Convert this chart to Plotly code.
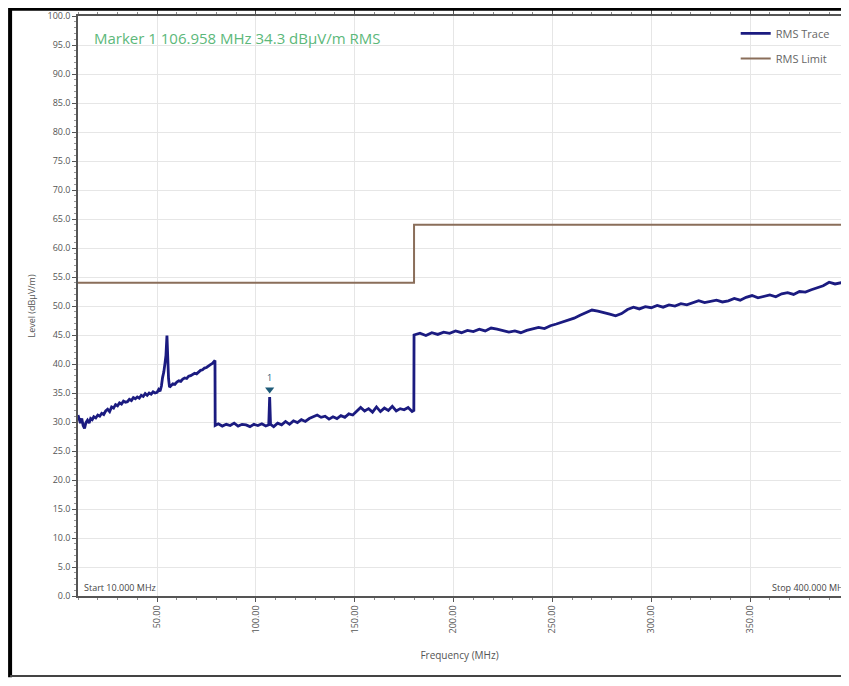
import plotly.graph_objects as go

# RMS trace (MHz, dBuV/m)
freq_low = [10.0, 10.6, 11.2, 11.9, 12.6, 13.3, 14.0, 14.8, 15.6, 16.4, 17.2, 18.0, 19.0, 20.0,
            21.0, 22.0, 23.0, 24.0, 25.0, 26.0, 27.0, 28.0, 29.0, 30.0, 31.0, 32.0, 33.0, 34.0,
            35.0, 36.0, 37.0, 38.0, 39.0, 40.0, 41.0, 42.0, 43.0, 44.0, 45.0, 46.0, 47.0, 48.0,
            49.0, 50.0, 50.8, 51.5, 52.2, 52.8, 53.4, 54.0, 54.5, 55.0, 55.4, 55.8, 56.3, 57.0,
            58.0, 59.0, 60.0, 61.0, 62.0, 63.0, 64.0, 65.0, 66.0, 67.0, 68.0, 69.0, 70.0, 71.0,
            72.0, 73.0, 74.0, 75.0, 76.0, 77.0, 78.0, 79.0, 79.3]
level_low = [31.2, 30.5, 29.8, 30.6, 29.4, 28.9, 29.9, 30.3, 29.8, 30.6, 30.4, 30.9, 30.7, 31.2,
             31.0, 31.5, 31.3, 31.9, 32.2, 31.8, 32.6, 32.4, 33.0, 32.8, 33.3, 33.1, 33.6, 33.4,
             33.5, 33.9, 33.7, 34.2, 34.0, 34.3, 34.1, 34.6, 34.4, 34.9, 34.6, 35.0, 34.8, 35.2,
             35.0, 35.1, 35.6, 35.3, 36.2, 37.7, 38.6, 40.1, 41.5, 44.9, 40.5, 37.5, 36.0, 36.3,
             36.6, 36.5, 36.9, 37.1, 37.0, 37.4, 37.6, 37.5, 37.9, 38.0, 38.2, 38.4, 38.3, 38.7,
             38.9, 39.0, 39.3, 39.4, 39.7, 39.9, 40.1, 40.4, 40.6]

freq_mid = [79.4, 81, 83, 85, 87, 89, 91, 93, 95, 97, 99, 101, 103, 105, 106.5, 106.958, 107.4,
            109, 111, 113, 115, 117, 119, 121, 123, 125, 127, 129, 131, 133, 135, 137, 139, 141,
            143, 145, 147, 149, 151, 153, 155, 157, 159, 161, 163, 165, 167, 169, 171, 173, 175,
            177, 179, 179.9]
level_mid = [29.4, 29.7, 29.3, 29.6, 29.4, 29.8, 29.3, 29.6, 29.5, 29.2, 29.6, 29.4, 29.7, 29.3,
             29.5, 34.3, 29.6, 29.2, 29.8, 29.5, 30.1, 29.6, 30.2, 29.9, 30.4, 30.1, 30.6, 30.9,
             31.2, 30.8, 31.0, 30.5, 30.9, 30.6, 31.1, 30.8, 31.4, 31.2, 31.8, 32.5, 31.9, 32.3,
             31.7, 32.6, 31.8, 32.4, 32.0, 32.7, 31.9, 32.3, 32.1, 32.5, 31.8, 32.0]

freq_high = [180, 183, 186, 189, 192, 195, 198, 201, 204, 207, 210, 213, 216, 219, 222, 225, 228,
             231, 234, 237, 240, 243, 246, 249, 252, 255, 258, 261, 264, 267, 270, 273, 276, 279,
             282, 285, 288, 291, 294, 297, 300, 303, 306, 309, 312, 315, 318, 321, 324, 327, 330,
             333, 336, 339, 342, 345, 348, 351, 354, 357, 360, 363, 366, 369, 372, 375, 378, 381,
             384, 387, 390, 393, 396, 399, 400]
level_high = [45.0, 45.3, 44.9, 45.4, 45.1, 45.5, 45.3, 45.7, 45.4, 45.8, 45.6, 46.0, 45.7, 46.2,
              46.0, 45.8, 45.5, 45.7, 45.4, 45.8, 46.0, 46.3, 46.1, 46.6, 46.9, 47.2, 47.5, 47.9,
              48.4, 48.8, 49.3, 49.1, 48.9, 48.6, 48.3, 48.7, 49.4, 49.8, 49.5, 49.9, 49.7, 50.1,
              49.8, 50.2, 50.0, 50.4, 50.2, 50.6, 50.9, 50.6, 50.8, 51.0, 50.7, 50.9, 51.3, 51.0,
              51.5, 51.8, 51.4, 51.7, 51.9, 51.6, 52.1, 52.3, 52.0, 52.5, 52.4, 52.8, 53.2, 53.5,
              54.1, 53.8, 54.0, 53.7, 53.9]

limit_freq = [10, 180, 180, 400]
limit_level = [54, 54, 64, 64]

marker_freq = 106.958
marker_level = 34.3

x_ticks = [50, 100, 150, 200, 250, 300, 350, 400]
y_ticks = list(range(0, 101, 5))

trace_freq = freq_low + freq_mid + freq_high
trace_level = level_low + level_mid + level_high

fig = go.Figure()
fig.add_trace(go.Scatter(x=trace_freq, y=trace_level, mode='lines', name='RMS Trace',
                         line=dict(color='#1b1b80', width=2.8), legendgroup='a'))
fig.add_trace(go.Scatter(x=limit_freq, y=limit_level, mode='lines', name='RMS Limit',
                         line=dict(color='#8a6e5a', width=2), legendgroup='b'))
fig.add_trace(go.Scatter(x=[marker_freq], y=[marker_level + 1.3], mode='markers+text',
                         marker=dict(symbol='triangle-down', size=8, color='#1d5a78'),
                         text=['1'], textposition='top center',
                         textfont=dict(size=9, color='#1d5a78'), showlegend=False))

fig.add_annotation(x=0.018, y=0.962, xref='paper', yref='paper', xanchor='left', yanchor='middle',
                   text='Marker 1 %.3f MHz %.1f dBµV/m RMS' % (marker_freq, marker_level),
                   showarrow=False, font=dict(size=15, color='#5cb87a'))
fig.add_annotation(x=0.005, y=0.015, xref='paper', yref='paper', xanchor='left', yanchor='middle',
                   text='Start 10.000 MHz', showarrow=False, font=dict(size=9, color='#444'))
fig.add_annotation(x=1.012, y=0.015, xref='paper', yref='paper', xanchor='right', yanchor='middle',
                   text='Stop 400.000 MHz', showarrow=False, font=dict(size=9, color='#444'))

# outer frame of the screenshot
fig.add_shape(type='line', xref='paper', yref='paper', x0=-0.089, x1=-0.089, y0=-0.14, y1=1.014,
              line=dict(color='black', width=4))
fig.add_shape(type='line', xref='paper', yref='paper', x0=-0.089, x1=1.05, y0=1.0115, y1=1.0115,
              line=dict(color='black', width=3))
fig.add_shape(type='line', xref='paper', yref='paper', x0=-0.089, x1=1.05, y0=-0.138, y1=-0.138,
              line=dict(color='#444', width=2))

fig.update_xaxes(range=[10, 396], tickvals=x_ticks, ticktext=['%.2f' % v for v in x_ticks],
                 tickangle=-90, tickfont=dict(size=9, color='#555'),
                 showgrid=True, gridcolor='#e6e6e6', gridwidth=1,
                 showline=True, linecolor='#555', linewidth=1.5, mirror='ticks',
                 ticks='outside', ticklen=4, tickcolor='#555',
                 minor=dict(dtick=10, ticks='outside', ticklen=2, tickcolor='#888', showgrid=False),
                 title=dict(text='Frequency (MHz)', font=dict(size=10, color='#555'), standoff=20),
                 zeroline=False)
fig.update_yaxes(range=[0, 100], tickvals=y_ticks, ticktext=['%.1f' % v for v in y_ticks],
                 tickfont=dict(size=9, color='#555'),
                 showgrid=True, gridcolor='#e6e6e6', gridwidth=1,
                 showline=True, linecolor='#555', linewidth=1.5, mirror=False,
                 ticks='outside', ticklen=4, tickcolor='#555',
                 minor=dict(dtick=1, ticks='outside', ticklen=2, tickcolor='#999', showgrid=False),
                 title=dict(text='Level (dBµV/m)', font=dict(size=9, color='#555'), standoff=10),
                 zeroline=False)

# the page body adds an 8px offset on each side
fig.update_layout(width=833, height=670, margin=dict(l=70, r=0, t=8, b=82),
                  plot_bgcolor='white', paper_bgcolor='white',
                  font=dict(family='Open Sans, sans-serif', color='#555'),
                  legend=dict(x=0.862, y=0.995, xanchor='left', yanchor='top',
                              font=dict(size=11, color='#666'), bgcolor='rgba(0,0,0,0)',
                              tracegroupgap=6, itemwidth=30))

fig.write_html("out.html")
